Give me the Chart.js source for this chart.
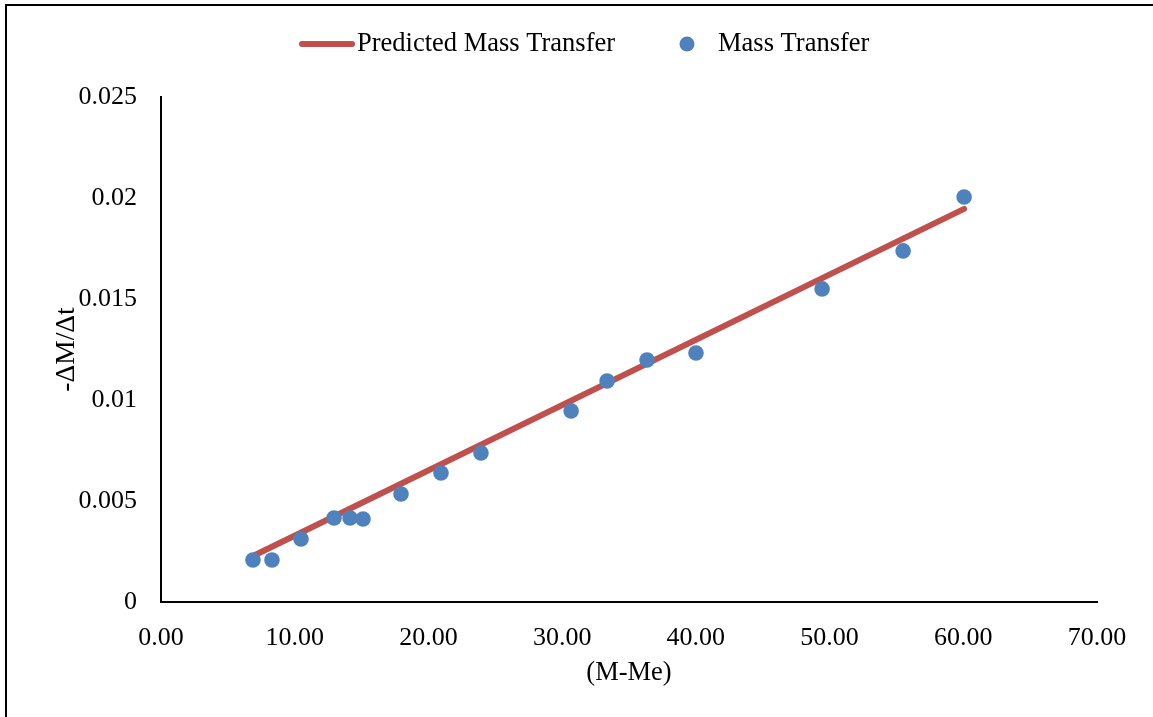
<!DOCTYPE html>
<html>
<head>
<meta charset="utf-8">
<script src="https://cdn.jsdelivr.net/npm/chart.js@4.4.1/dist/chart.umd.min.js"></script>
<style>
  html, body { margin: 0; padding: 0; background: #fff; }
  #wrap { width: 1153px; height: 717px; position: relative; }
</style>
</head>
<body>
<div id="wrap"><canvas id="c" width="1153" height="717"></canvas></div>
<script>
// Moisture difference (M - Me) and drying rate -ΔM/Δt
const moistureDiff = [6.88, 8.30, 10.47, 12.94, 14.14, 15.11, 17.95, 20.94, 23.93, 30.67, 33.36, 36.35, 40.01, 49.44, 55.50, 60.06];
const massTransfer = [0.00208, 0.00208, 0.00312, 0.00416, 0.00416, 0.00411, 0.00535, 0.00639, 0.00738, 0.00946, 0.01094, 0.01198, 0.01233, 0.0155, 0.01738, 0.02005];

// Fitted line end points
const predictedX = [6.88, 60.06];
const predictedY = [0.00228, 0.01946];

const yTickLabels = ['0', '0.005', '0.01', '0.015', '0.02', '0.025'];
const xTickLabels = ['0.00', '10.00', '20.00', '30.00', '40.00', '50.00', '60.00', '70.00'];

const seriesNames = ['Predicted Mass Transfer', 'Mass Transfer'];
const axisTitles = { x: '(M-Me)', y: '-ΔM/Δt' };

const RED = '#C0504D';
const BLUE = '#4F81BD';
const FONT = '"Liberation Serif", "Times New Roman", serif';

const pointsData = moistureDiff.map((x, i) => ({ x, y: massTransfer[i] }));
const lineData = predictedX.map((x, i) => ({ x, y: predictedY[i] }));

// Page frame, legend and axis titles
const decorations = {
  id: 'decorations',
  beforeDraw(chart) {
    const ctx = chart.ctx;
    ctx.save();
    ctx.fillStyle = '#fff';
    ctx.fillRect(0, 0, chart.width, chart.height);
    ctx.strokeStyle = '#000';
    ctx.lineWidth = 2;
    ctx.beginPath();
    ctx.moveTo(6, chart.height);
    ctx.lineTo(6, 5);
    ctx.lineTo(chart.width, 5);
    ctx.stroke();
    ctx.restore();
  },
  afterDraw(chart) {
    const ctx = chart.ctx;
    const area = chart.chartArea;
    ctx.save();
    ctx.fillStyle = '#000';
    ctx.font = '26.5px ' + FONT;
    ctx.textBaseline = 'middle';
    ctx.textAlign = 'left';

    // legend
    const ly = 44;
    ctx.strokeStyle = RED;
    ctx.lineWidth = 6;
    ctx.lineCap = 'round';
    ctx.beginPath();
    ctx.moveTo(302, ly);
    ctx.lineTo(352, ly);
    ctx.stroke();
    ctx.fillText(seriesNames[0], 357, ly);

    ctx.fillStyle = BLUE;
    ctx.beginPath();
    ctx.arc(687, ly, 7.5, 0, Math.PI * 2);
    ctx.fill();
    ctx.fillStyle = '#000';
    ctx.fillText(seriesNames[1], 718, ly);

    // axis titles
    ctx.textAlign = 'center';
    ctx.fillText(axisTitles.x, (area.left + area.right) / 2, 673);
    ctx.font = '27.5px ' + FONT;
    ctx.translate(67, (area.top + area.bottom) / 2);
    ctx.rotate(-Math.PI / 2);
    ctx.fillText(axisTitles.y, 0, 0);
    ctx.restore();
  }
};

new Chart(document.getElementById('c'), {
  type: 'scatter',
  data: {
    datasets: [
      {
        label: seriesNames[0],
        type: 'line',
        data: lineData,
        borderColor: RED,
        borderWidth: 6,
        borderCapStyle: 'round',
        pointRadius: 0,
        fill: false,
        order: 2
      },
      {
        label: seriesNames[1],
        data: pointsData,
        backgroundColor: BLUE,
        borderColor: BLUE,
        borderWidth: 0,
        pointRadius: 7.8,
        pointHoverRadius: 7.8,
        order: 1
      }
    ]
  },
  options: {
    responsive: false,
    animation: false,
    events: [],
    layout: { padding: { top: 97, right: 56, left: 0, bottom: 0 } },
    plugins: {
      legend: { display: false },
      tooltip: { enabled: false }
    },
    scales: {
      x: {
        type: 'linear',
        min: 0,
        max: 70,
        afterBuildTicks(scale) {
          scale.ticks = xTickLabels.map(t => ({ value: parseFloat(t) }));
        },
        afterFit(scale) { scale.height = 115; },
        grid: { display: false, drawTicks: false },
        border: { display: true, color: '#000', width: 2 },
        ticks: {
          padding: 21,
          color: '#000',
          font: { family: FONT, size: 26 },
          maxRotation: 0,
          callback: (v, i) => xTickLabels[i]
        }
      },
      y: {
        type: 'linear',
        min: 0,
        max: 0.025,
        afterBuildTicks(scale) {
          scale.ticks = yTickLabels.map(t => ({ value: parseFloat(t) }));
        },
        afterFit(scale) { scale.width = 161; },
        grid: { display: false, drawTicks: false },
        border: { display: true, color: '#000', width: 2 },
        ticks: {
          padding: 24,
          color: '#000',
          font: { family: FONT, size: 26 },
          callback: (v, i) => yTickLabels[i]
        }
      }
    }
  },
  plugins: [decorations]
});
</script>
</body>
</html>
